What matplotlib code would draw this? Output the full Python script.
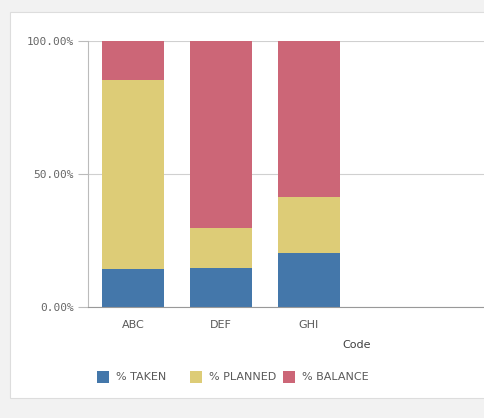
import matplotlib.pyplot as plt
import numpy as np
from matplotlib.patches import Rectangle

codes = ['ABC', 'DEF', 'GHI']
taken = [14.3, 14.7, 20.3]
planned = [71.0, 15.0, 21.1]
balance = [14.7, 70.3, 58.6]
series_names = ['% TAKEN', '% PLANNED', '% BALANCE']
colors = ['#4477aa', '#ddcc77', '#cc6677']
yticks = [0, 50, 100]

W, H = 485, 418
fig = plt.figure(figsize=(W / 100, H / 100), dpi=100)
fig.patch.set_facecolor('#f2f2f2')

# white panel
panel = Rectangle((10 / W, 1 - 398 / H), (W - 10) / W, (398 - 12) / H,
                  transform=fig.transFigure, facecolor='white',
                  edgecolor='#dddddd', linewidth=0.8, zorder=-10)
fig.patches.append(panel)

ax = fig.add_axes([88 / W, 1 - 307 / H, (W - 88) / W, (307 - 41) / H])
ax.set_facecolor('none')
ax.set_zorder(5)

x = np.arange(len(codes))
bottom = np.zeros(len(codes))
for vals, name, c in zip([taken, planned, balance], series_names, colors):
    ax.bar(x, vals, width=0.705, bottom=bottom, color=c, label=name, zorder=3)
    bottom += np.array(vals)

ax.set_xlim(-0.511, 4.0)
ax.set_ylim(0, 100)
ax.set_yticks(yticks)
ax.set_yticklabels([f'{v:.2f}%' for v in yticks], family='DejaVu Sans Mono',
                   fontsize=8, color='#666666')
ax.set_xticks(x)
ax.set_xticklabels(codes, fontsize=8, color='#595959')
ax.tick_params(axis='x', length=0, pad=9)
ax.tick_params(axis='y', length=7, color='#bbbbbb', pad=3)
ax.grid(axis='y', color='#d0d0d0', linewidth=0.8, zorder=0)
for s in ['top', 'right']:
    ax.spines[s].set_visible(False)
ax.spines['left'].set_color('#bbbbbb')
ax.spines['bottom'].set_color('#999999')
ax.spines['bottom'].set_zorder(4)

fig.text(357 / W, 1 - 345 / H, 'Code', fontsize=8, color='#404040',
         ha='center', va='center')

# legend
lx = [97, 190, 283]
for px, name, c in zip(lx, series_names, colors):
    fig.patches.append(Rectangle((px / W, 1 - 383 / H), 12 / W, 12 / H,
                                 transform=fig.transFigure, facecolor=c,
                                 zorder=10))
    fig.text((px + 19) / W, 1 - 377 / H, name, fontsize=8, color='#595959',
             ha='left', va='center')

fig.savefig('out.png', dpi=100, facecolor=fig.get_facecolor())
